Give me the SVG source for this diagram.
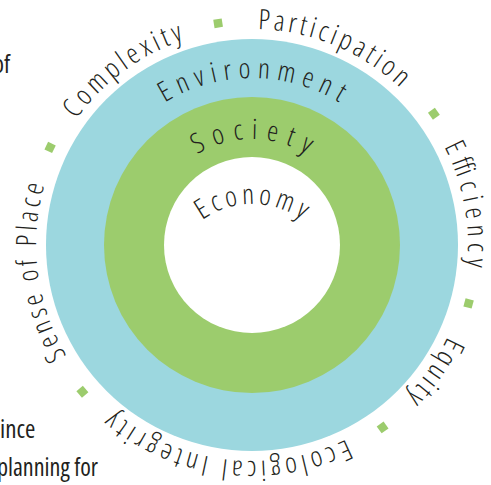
<svg xmlns="http://www.w3.org/2000/svg" width="491" height="485" viewBox="0 0 491 485">
  <style>
    .lbl { font-family: "Open Sans", "DejaVu Sans", sans-serif; font-stretch: 75%; font-weight: 300; font-size: 28px; fill: #231f20; }
    .page { font-family: "Open Sans", "DejaVu Sans", sans-serif; font-stretch: 75%; font-weight: 400; font-size: 25px; fill: #231f20; }
    .dot { fill: #9ccc6d; }
  </style>
  <defs>
    <path id="outerPath" d="M252,29 A216,216 0 0 1 252,461 A216,216 0 0 1 252,29" fill="none"/>
    <path id="envPath" d="M252,412 A167,167 0 0 1 252,78 A167,167 0 0 1 252,412" fill="none"/>
    <path id="socPath" d="M252,351 A106,106 0 0 1 252,139 A106,106 0 0 1 252,351" fill="none"/>
    <path id="ecoPath" d="M252,376 A86,86 0 0 1 252,204 A86,86 0 0 1 252,376" fill="none"/>
    <rect id="sq" x="-4.25" y="-4.25" width="8.5" height="8.5"/>
  </defs>

  <rect width="491" height="485" fill="#ffffff"/>

  <g id="page-text">
    <text class="page" x="-7" y="73">of</text>
    <text class="page" x="0" y="438">ince</text>
    <text class="page" x="-3" y="476" textLength="101" lengthAdjust="spacingAndGlyphs">planning for</text>
  </g>

  <g id="environment">
    <circle cx="252" cy="245" r="206" fill="#9cd7df"/>
    <text class="lbl"><textPath href="#envPath" startOffset="50%" text-anchor="middle" textLength="183.6" lengthAdjust="spacing">Environment</textPath></text>
  </g>

  <g id="society">
    <circle cx="252" cy="245" r="148" fill="#9ccc6d"/>
    <text class="lbl"><textPath href="#socPath" startOffset="50%" text-anchor="middle" textLength="115.6" lengthAdjust="spacing">Society</textPath></text>
  </g>

  <g id="economy">
    <circle cx="252" cy="245" r="88" fill="#ffffff"/>
    <text class="lbl"><textPath href="#ecoPath" startOffset="50%" text-anchor="middle" textLength="106.6" lengthAdjust="spacing">Economy</textPath></text>
  </g>

  <g id="principles">
    <g id="participation"><text class="lbl"><textPath href="#outerPath" startOffset="6" textLength="157" lengthAdjust="spacing">Participation</textPath></text></g>
    <g id="efficiency"><text class="lbl"><textPath href="#outerPath" startOffset="237" textLength="124" lengthAdjust="spacing">Efficiency</textPath></text></g>
    <g id="equity"><text class="lbl"><textPath href="#outerPath" startOffset="433.5" textLength="73" lengthAdjust="spacing">Equity</textPath></text></g>
    <g id="ecological-integrity"><text class="lbl"><textPath href="#outerPath" startOffset="580.6" textLength="248" lengthAdjust="spacing">Ecological Integrity</textPath></text></g>
    <g id="sense-of-place"><text class="lbl"><textPath href="#outerPath" startOffset="901" textLength="177" lengthAdjust="spacing">Sense of Place</textPath></text></g>
    <g id="complexity"><text class="lbl"><textPath href="#outerPath" startOffset="1151.7" textLength="135.7" lengthAdjust="spacing">Complexity</textPath></text></g>
  </g>

  <g id="separators" class="dot">
    <use href="#sq" transform="translate(218.1,23.3) rotate(-8.7)"/>
    <use href="#sq" transform="translate(433.9,113.8) rotate(54.2)"/>
    <use href="#sq" transform="translate(468.6,303.4) rotate(105.1)"/>
    <use href="#sq" transform="translate(382.6,427.4) rotate(144.4)"/>
    <use href="#sq" transform="translate(82.4,391.8) rotate(229.1)"/>
    <use href="#sq" transform="translate(50.1,147.4) rotate(295.8)"/>
  </g>
</svg>
